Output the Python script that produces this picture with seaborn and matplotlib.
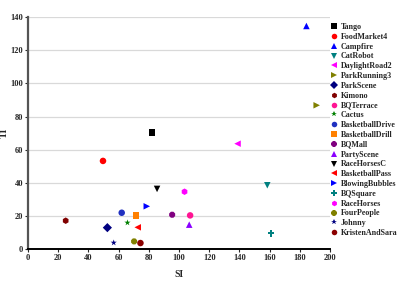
import matplotlib
matplotlib.use("Agg")
import matplotlib.pyplot as plt
import seaborn as sns
import pandas as pd

names = ["Tango", "FoodMarket4", "Campfire", "CatRobot", "DaylightRoad2", "ParkRunning3",
         "ParkScene", "Kimono", "BQTerrace", "Cactus", "BasketballDrive", "BasketballDrill",
         "BQMall", "PartyScene", "RaceHorsesC", "BasketballPass", "BlowingBubbles",
         "BQSquare", "RaceHorses", "FourPeople", "Johnny", "KristenAndSara"]
si = [82.0, 49.7, 184.4, 158.5, 138.8, 191.2,
      52.6, 25.0, 107.4, 65.9, 62.1, 71.6,
      95.5, 106.8, 85.5, 72.7, 78.7,
      160.9, 103.7, 70.3, 56.8, 74.5]
ti = [70.3, 53.2, 134.7, 38.5, 63.6, 86.8,
      12.9, 17.1, 20.3, 15.9, 21.9, 20.1,
      20.7, 14.7, 36.3, 13.1, 25.8,
      9.5, 34.6, 4.6, 3.8, 3.6]
colors = ["#000000", "#ff0000", "#0000ff", "#008080", "#ff00ff", "#808000",
          "#000080", "#800000", "#ff1493", "#008000", "#2030c0", "#ff8000",
          "#800080", "#8a00ff", "#000000", "#ff0000", "#0000ff",
          "#008080", "#ff00ff", "#808000", "#000080", "#8b0000"]
markers = ["s", "o", "^", "v", "<", ">",
           "D", "h", "o", "*", "o", "s",
           "8", "^", "v", "<", ">",
           "P", "h", "8", "*", "o"]

df = pd.DataFrame({"name": names, "SI": si, "TI": ti})

sns.set_style("white")
plt.rcParams["font.family"] = ["Liberation Serif", "DejaVu Serif"]
plt.rcParams["font.weight"] = "bold"

fig = plt.figure(figsize=(3.99, 2.82), dpi=100)
ax = fig.add_axes([0.070, 0.117, 0.757, 0.822])

sns.scatterplot(data=df, x="SI", y="TI", hue="name", style="name",
                palette=dict(zip(names, colors)), markers=dict(zip(names, markers)),
                s=22, linewidth=0, ax=ax, zorder=3)

ax.set_xlim(0, 200)
ax.set_ylim(0, 140)
ax.set_xticks(range(0, 201, 20))
ax.set_yticks(range(0, 141, 20))
ax.grid(axis="y", color="#d9d9d9", linewidth=0.9)
ax.grid(axis="x", visible=False)
for s in ["top", "right"]:
    ax.spines[s].set_visible(False)
ax.spines["left"].set_color("#555555")
ax.spines["left"].set_linewidth(1.6)
ax.spines["bottom"].set_color("#000000")
ax.spines["bottom"].set_linewidth(1.4)
ax.tick_params(axis="both", labelsize=6, length=2, width=0.8, pad=1.5, direction="out",
               bottom=True, left=True)
for lbl in ax.get_xticklabels() + ax.get_yticklabels():
    lbl.set_fontweight("bold")
ax.set_xlabel("SI", fontsize=7, fontweight="bold", labelpad=6)
ax.set_ylabel("TI", fontsize=7, fontweight="bold", labelpad=1)

leg = ax.legend(loc="upper left", bbox_to_anchor=(1.0, 0.975), frameon=False,
                fontsize=5.8, handletextpad=0.35, labelspacing=0.225, borderaxespad=0,
                markerscale=0.85, handlelength=1.0, borderpad=0)
for t in leg.get_texts():
    t.set_fontweight("bold")

fig.savefig("out.png", dpi=100)
